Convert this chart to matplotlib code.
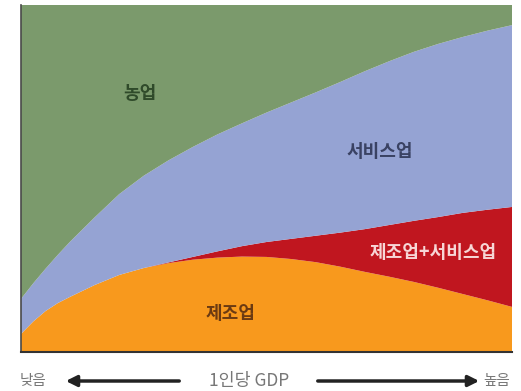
import matplotlib
matplotlib.use("Agg")
import matplotlib.pyplot as plt
from matplotlib.patches import FancyArrowPatch

plt.rcParams['font.family'] = ['Noto Sans CJK KR', 'DejaVu Sans']

# GDP per capita position (low -> high)
gdp = [0, 0.25, 0.5, 0.75, 1, 1.5, 2, 2.5, 3, 3.5, 4, 4.5, 5, 5.5, 6, 6.5,
       7, 7.5, 8, 8.5, 9, 9.5, 10]
# shares (%), stacked bottom to top
manufacturing = [5.2, 8.8, 11.8, 14.1, 15.9, 19.3, 22.2, 24.2, 25.6, 26.6, 27.2,
                 27.5, 27.4, 26.8, 25.9, 24.6, 23.1, 21.7, 20.2, 18.5, 16.7, 14.9, 13.0]
manuf_services = [0, 0, 0, 0, 0, 0, 0, 0, 0.2, 0.8, 1.8, 3.0, 4.3, 5.8, 7.6, 9.8,
                  12.3, 14.9, 17.6, 20.4, 23.4, 26.1, 28.8]
services = [10.1, 11.0, 12.2, 13.9, 15.9, 19.5, 23.3, 26.6, 29.4, 31.7, 33.7, 35.4,
            37.3, 39.3, 41.3, 43.4, 45.5, 47.2, 48.7, 49.9, 50.7, 51.6, 52.4]
agriculture = [84.7, 80.2, 76.0, 72.0, 68.2, 61.2, 54.5, 49.2, 44.8, 40.9, 37.3, 34.1,
               31.0, 28.1, 25.2, 22.2, 19.1, 16.2, 13.5, 11.2, 9.2, 7.4, 5.8]

labels = ['제조업', '제조업+서비스업', '서비스업', '농업']
colors = ['#f8991d', '#c0161f', '#95a3d3', '#7b9a6c']
label_colors = ['#6b3a12', '#f7d6d6', '#3a4263', '#2f4a2a']
label_pos = [(4.26, 11.2), (8.39, 28.8), (7.31, 57.9), (2.42, 74.6)]

fig = plt.figure(figsize=(5.21, 3.91), dpi=100)
ax = fig.add_axes([21/521, 39/391, 491/521, 347/391])
ax.stackplot(gdp, manufacturing, manuf_services, services, agriculture,
             colors=colors, linewidth=0)
ax.set_xlim(0, 10)
ax.set_ylim(0, 100)
ax.set_xticks([])
ax.set_yticks([])
for s in ['top', 'right']:
    ax.spines[s].set_visible(False)
ax.spines['left'].set_color('#4a4a4a')
ax.spines['left'].set_linewidth(1.2)
ax.spines['bottom'].set_color('#333333')
ax.spines['bottom'].set_linewidth(1.5)

for lab, c, (x, y) in zip(labels, label_colors, label_pos):
    ax.text(x, y, lab, color=c, fontsize=13, fontweight='bold',
            ha='center', va='center')

# bottom axis caption with arrows
ty = 1 - 381/391
fig.text(33/521, ty, '낮음', color='#777777', fontsize=10.5, ha='center', va='center')
fig.text(249/521, ty, '1인당 GDP', color='#777777', fontsize=12.5, ha='center', va='center')
fig.text(497/521, ty, '높음', color='#777777', fontsize=10.5, ha='center', va='center')
fig.patches.append(FancyArrowPatch(
    (182/521, ty), (63/521, ty), transform=fig.transFigure,
    arrowstyle='-|>', mutation_scale=16, lw=2.5, color='#222222'))
fig.patches.append(FancyArrowPatch(
    (315/521, ty), (482/521, ty), transform=fig.transFigure,
    arrowstyle='-|>', mutation_scale=16, lw=2.5, color='#222222'))

fig.savefig('out.png', dpi=100)
